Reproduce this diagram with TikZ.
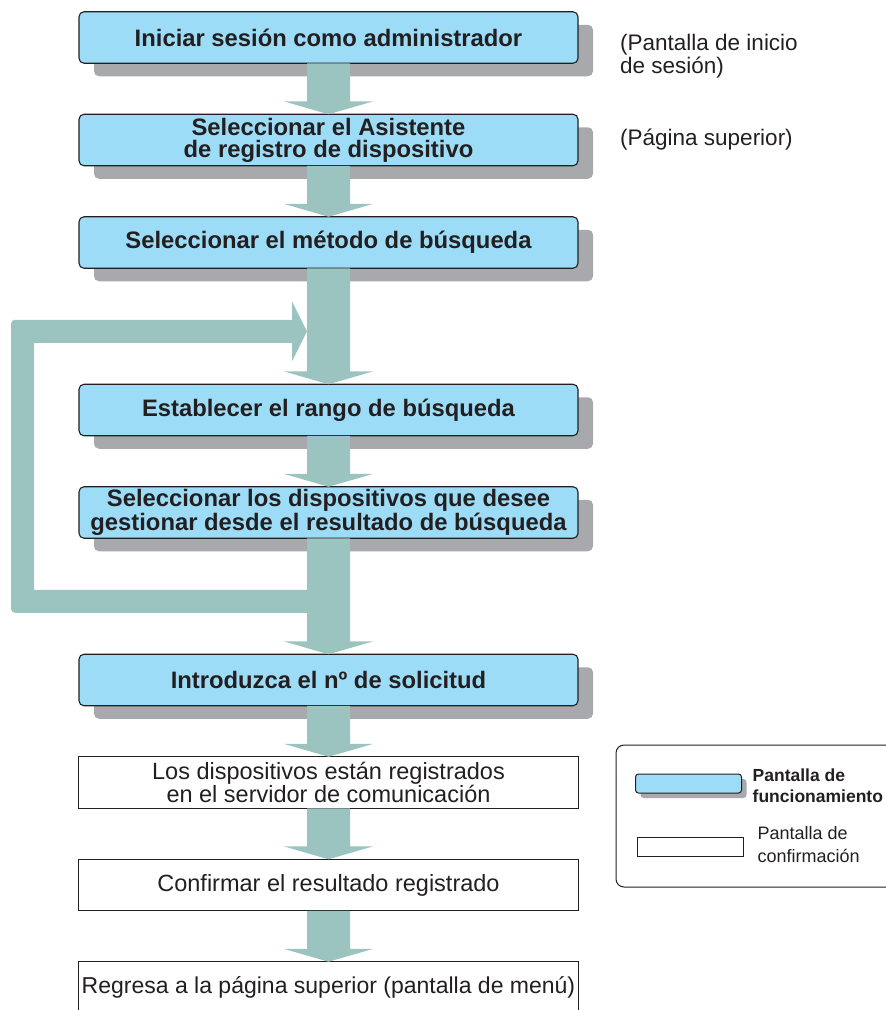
\documentclass[tikz,border=0pt]{standalone}
\usepackage{fontspec}
\setmainfont{Liberation Sans}
\usetikzlibrary{positioning,calc,shadows}

\definecolor{screenblue}{RGB}{157,220,247}
\definecolor{shadowgray}{RGB}{167,169,172}
\definecolor{flowteal}{RGB}{155,195,191}
\definecolor{inkdark}{RGB}{35,31,32}

\tikzset{
  opscreen/.style={draw=inkdark, line width=1.1pt, rounded corners=5pt, fill=screenblue, text=inkdark,
    minimum width=499pt, minimum height=51.5pt, inner sep=0pt, outer sep=0pt, align=center,
    font=\fontsize{23.8}{22}\selectfont\bfseries,
    drop shadow={shadow xshift=15pt, shadow yshift=-13pt, fill=shadowgray, opacity=1}},
  confscreen/.style={draw=inkdark, line width=0.9pt, fill=white, text=inkdark,
    minimum width=500pt, minimum height=51.5pt, inner sep=0pt, outer sep=0pt, align=center,
    font=\fontsize{23.5}{22}\selectfont},
  sidenote/.style={inner sep=0pt, align=left, text=inkdark, font=\fontsize{22.5}{23}\selectfont},
  keysample/.style={draw=inkdark, line width=1pt, minimum width=106pt, minimum height=19pt, inner sep=0pt, outer sep=0pt},
  keytext/.style={inner sep=0pt, align=left, text=inkdark},
}

% block arrow from one step to the next
\newcommand{\blockedge}[2]{%
  \fill[flowteal] ($(#1.south)+(-21.5,0)$) |- ($(#2.north)+(-45,13)$) -- (#2.north)
    -- ($(#2.north)+(45,13)$) -| ($(#1.south)+(21.5,0)$) -- cycle;}

\begin{document}
\begin{tikzpicture}[x=1pt, y=1pt, node distance=51pt]
  \useasboundingbox (0,0) rectangle (886,-1010);

  % nodes

  %operation screens
  \node[opscreen] (admin_login) at (328.5,-37.5) {Iniciar sesión como administrador};
  \node[opscreen, below=of admin_login] (device_wizard) {Seleccionar el Asistente\\de registro de dispositivo};
  \node[opscreen, below=of device_wizard] (search_method) {Seleccionar el método de búsqueda};
  \node[opscreen, below=of search_method, yshift=-65pt] (search_range) {Establecer el rango de búsqueda};
  \node[opscreen, below=of search_range] (device_select) {Seleccionar los dispositivos que desee\\gestionar desde el resultado de búsqueda};
  \node[opscreen, below=of device_select, yshift=-65pt] (request_number) {Introduzca el nº de solicitud};

  %confirmation screens
  \node[confscreen, below=of request_number] (devices_registered) {Los dispositivos están registrados\\en el servidor de comunicación};
  \node[confscreen, below=of devices_registered] (confirm_result) {Confirmar el resultado registrado};
  \node[confscreen, below=of confirm_result, font=\fontsize{23}{22}\selectfont] (back_to_top) {Regresa a la página superior (pantalla de menú)};

  %screen names
  \node[sidenote, right=of admin_login, xshift=-9pt, yshift=-19pt] (login_note) {(Pantalla de inicio\\de sesión)};
  \node[sidenote, right=of device_wizard, xshift=-9pt, yshift=0pt] (wizard_note) {(Página superior)};

  %legend
  \node[draw=inkdark, line width=1pt, rounded corners=8pt, minimum width=290pt, minimum height=142pt] (legend_frame) at (761,-816) {};
  \node[keysample, fill=screenblue, rounded corners=3pt,
    drop shadow={shadow xshift=5pt, shadow yshift=-5pt, fill=shadowgray, opacity=1}] (key_op) at (688.5,-783.5) {};
  \node[keysample, fill=white] (key_conf) at (690.5,-846.5) {};
  \node[keytext, right=of key_op, xshift=-40pt, yshift=-2pt, font=\fontsize{17.5}{21.5}\selectfont\bfseries] (key_op_text) {Pantalla de\\funcionamiento};
  \node[keytext, right=of key_conf, xshift=-37pt, yshift=2pt, font=\fontsize{18}{23}\selectfont] (key_conf_text) {Pantalla de\\confirmación};

  % edges
  \blockedge{admin_login}{device_wizard}
  \blockedge{device_wizard}{search_method}
  \blockedge{search_method}{search_range}
  \blockedge{search_range}{device_select}
  \blockedge{device_select}{request_number}
  \blockedge{request_number}{devices_registered}
  \blockedge{devices_registered}{confirm_result}
  \blockedge{confirm_result}{back_to_top}

  % loop back to the search range
  \coordinate (loop_out) at ([yshift=-63pt]device_select.south);
  \coordinate (loop_in) at ([xshift=-21.5pt, yshift=-63pt]search_method.south);
  \fill[flowteal] ($(loop_out)+(0,11.5)$) -- ($(loop_out)+(-294.5,11.5)$) -- ($(loop_in)+(-273,-11.5)$)
    -- ($(loop_in)+(-15,-11.5)$) -- ($(loop_in)+(-15,-30)$) -- (loop_in) -- ($(loop_in)+(-15,30)$)
    -- ($(loop_in)+(-15,11.5)$) [rounded corners=4pt] -- ($(loop_in)+(-296,11.5)$)
    -- ($(loop_out)+(-317.5,-11.5)$) [sharp corners] -- ($(loop_out)+(0,-11.5)$) -- cycle;

\end{tikzpicture}
\end{document}
